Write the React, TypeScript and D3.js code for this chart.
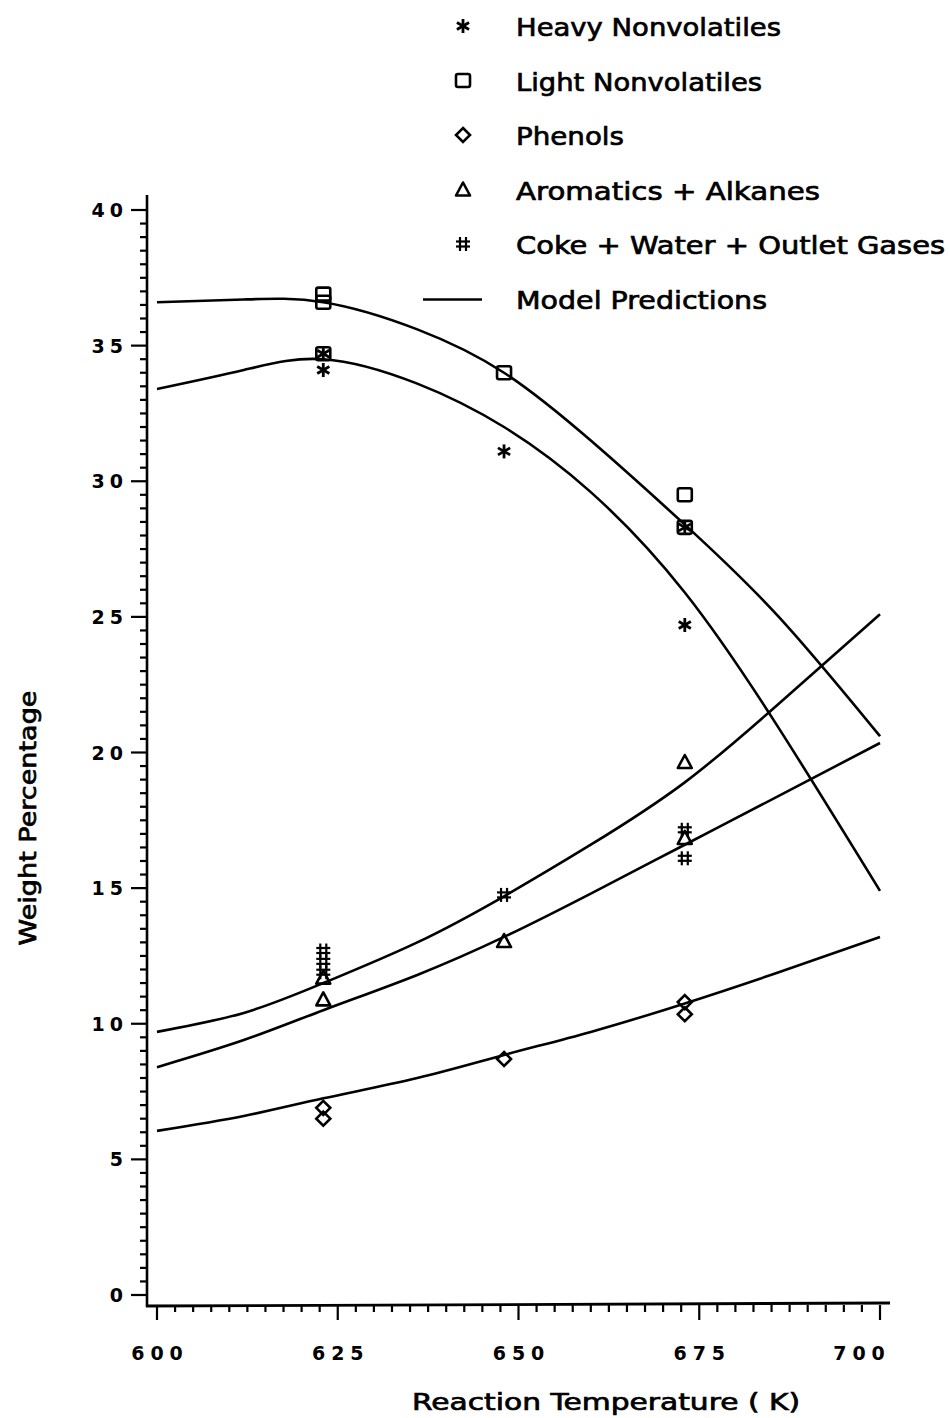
import React from "react";
import * as d3 from "d3";

// ---- data ----
const modelTemps = [600, 612, 623, 636, 648, 660, 673, 686, 700];
const lightModel = [36.6, 36.7, 36.6, 35.6, 34.0, 31.5, 28.4, 25.0, 20.6];
const heavyModel = [33.4, 34.1, 34.5, 33.6, 32.0, 29.6, 25.9, 20.9, 14.9];
const cokeModel = [9.7, 10.4, 11.5, 13.0, 14.7, 16.6, 18.9, 21.8, 25.1];
const aromModel = [8.4, 9.4, 10.5, 11.8, 13.2, 14.8, 16.6, 18.4, 20.35];
const phenolModel = [6.05, 6.6, 7.25, 8.0, 8.85, 9.7, 10.75, 11.9, 13.2];

const heavyPts: [number, number][] = [[623, 34.7], [623, 34.1], [648, 31.1], [673, 28.3], [673, 24.7]];
const lightPts: [number, number][] = [[623, 36.9], [623, 36.6], [623, 34.7], [648, 34.0], [673, 29.5], [673, 28.3]];
const phenolPts: [number, number][] = [[623, 6.9], [623, 6.5], [648, 8.7], [673, 10.8], [673, 10.35]];
const aromPts: [number, number][] = [[623, 11.7], [623, 10.9], [648, 13.05], [673, 19.65], [673, 16.85]];
const cokePts: [number, number][] = [[623, 12.7], [623, 12.3], [623, 11.9], [648, 14.75], [673, 17.15], [673, 16.1]];

const xTicks = [600, 625, 650, 675, 700];
const yTicks = [0, 5, 10, 15, 20, 25, 30, 35, 40];

const legendLabels = [
  "Heavy Nonvolatiles",
  "Light Nonvolatiles",
  "Phenols",
  "Aromatics + Alkanes",
  "Coke + Water + Outlet Gases",
  "Model Predictions",
];
const legendLengths = [265, 246, 108, 304, 429, 251];
const legendKinds = ["star", "square", "diamond", "triangle", "hash", "line"];

const FONT = "'DejaVu Sans', 'Open Sans', sans-serif";
const SW = 2.6;

function Marker({ kind, cx, cy }: { kind: string; cx: number; cy: number }) {
  const common = { stroke: "#000", strokeWidth: SW, fill: "none" } as any;
  if (kind === "square") {
    return <rect x={cx - 7} y={cy - 6.5} width={14} height={13} rx={2} {...common} />;
  }
  if (kind === "diamond") {
    const r = 7;
    return <path d={`M${cx},${cy - r}L${cx + r},${cy}L${cx},${cy + r}L${cx - r},${cy}Z`} {...common} />;
  }
  if (kind === "triangle") {
    return <path d={`M${cx},${cy - 7}L${cx + 7},${cy + 6}L${cx - 7},${cy + 6}Z`} {...common} strokeLinejoin="round" />;
  }
  if (kind === "hash") {
    return (
      <g {...common} strokeWidth={2.2}>
        <line x1={cx - 3} y1={cy - 7} x2={cx - 3} y2={cy + 7} />
        <line x1={cx + 3} y1={cy - 7} x2={cx + 3} y2={cy + 7} />
        <line x1={cx - 7} y1={cy - 2.5} x2={cx + 7} y2={cy - 2.5} />
        <line x1={cx - 7} y1={cy + 2.5} x2={cx + 7} y2={cy + 2.5} />
      </g>
    );
  }
  if (kind === "star") {
    const r = 7;
    const angs = [90, 30, 150];
    return (
      <g {...common} strokeWidth={2.8}>
        {angs.map((a) => {
          const rad = (a * Math.PI) / 180;
          return (
            <line
              key={a}
              x1={cx - r * Math.cos(rad)}
              y1={cy - r * Math.sin(rad)}
              x2={cx + r * Math.cos(rad)}
              y2={cy + r * Math.sin(rad)}
            />
          );
        })}
      </g>
    );
  }
  return null;
}

export default function App() {
  const W = 950;
  const H = 1418;
  const x = d3.scaleLinear().domain([600, 700]).range([157, 880]);
  const y = d3.scaleLinear().domain([0, 40]).range([1295, 210]);
  const axisX = 147;
  const axisY = 1305;

  const line = d3
    .line<number>()
    .x((_, i) => x(modelTemps[i]))
    .y((d) => y(d))
    .curve(d3.curveNatural);

  const models = [lightModel, heavyModel, cokeModel, aromModel, phenolModel];

  const yMinor = d3.range(0, 40.001, 0.5);
  const xMinor = d3.range(600, 700.001, 2.5);

  const series: [string, [number, number][]][] = [
    ["square", lightPts],
    ["star", heavyPts],
    ["diamond", phenolPts],
    ["triangle", aromPts],
    ["hash", cokePts],
  ];

  const textStroke = { stroke: "#000", strokeWidth: 0.7 } as any;

  return (
    <svg
      width={W}
      height={H}
      viewBox={`0 0 ${W} ${H}`}
      style={{ position: "absolute", left: 0, top: 0, background: "#fff" }}
    >
      <rect x={0} y={0} width={W} height={H} fill="#fff" />
      {/* axes */}
      <line x1={axisX} y1={195} x2={axisX} y2={axisY + 2} stroke="#000" strokeWidth={2.6} />
      <line x1={axisX - 1} y1={axisY + 1} x2={890} y2={axisY - 2} stroke="#000" strokeWidth={2.8} />
      {yMinor.map((v) => {
        const major = Math.abs(v % 5) < 1e-6;
        return (
          <line
            key={"ym" + v}
            x1={major ? axisX - 16 : axisX - 7}
            x2={axisX}
            y1={y(v)}
            y2={y(v)}
            stroke="#000"
            strokeWidth={2.2}
          />
        );
      })}
      {xMinor.map((v) => {
        const major = Math.abs(v % 25) < 1e-6;
        return (
          <line
            key={"xm" + v}
            x1={x(v)}
            x2={x(v)}
            y1={axisY}
            y2={axisY + (major ? 15 : 7)}
            stroke="#000"
            strokeWidth={2.2}
          />
        );
      })}
      {yTicks.map((v) => (
        <text
          key={"yl" + v}
          x={axisX - 19}
          y={y(v) + 7}
          textAnchor="end"
          fontFamily={FONT}
          fontWeight="bold"
          fontSize={19}
          letterSpacing={5}
        >
          {String(v)}
        </text>
      ))}
      {xTicks.map((v, i) => (
        <text
          key={"xl" + v}
          x={x(v) + (i === xTicks.length - 1 ? -18 : 3)}
          y={1360}
          textAnchor="middle"
          fontFamily={FONT}
          fontWeight="bold"
          fontSize={19}
          letterSpacing={6}
        >
          {String(v)}
        </text>
      ))}
      {/* axis titles */}
      <text
        x={606}
        y={1410}
        textAnchor="middle"
        fontFamily={FONT}
        fontSize={23}
        textLength={388}
        lengthAdjust="spacingAndGlyphs"
        {...textStroke}
      >
        Reaction Temperature ( K)
      </text>
      <text
        transform="translate(36,818) rotate(-90)"
        textAnchor="middle"
        fontFamily={FONT}
        fontSize={23}
        textLength={255}
        lengthAdjust="spacingAndGlyphs"
        {...textStroke}
      >
        Weight Percentage
      </text>
      {/* model curves */}
      {models.map((m, i) => (
        <path key={"m" + i} d={line(m) || ""} fill="none" stroke="#000" strokeWidth={2.6} />
      ))}
      {/* data points */}
      {series.map(([kind, pts]) =>
        pts.map((p, j) => <Marker key={kind + j} kind={kind} cx={x(p[0])} cy={y(p[1])} />)
      )}
      {/* legend */}
      {legendLabels.map((lab, i) => {
        const cy = 26 + i * 54.5;
        return (
          <g key={lab}>
            {legendKinds[i] === "line" ? (
              <line x1={423} x2={482} y1={cy + 1} y2={cy + 1} stroke="#000" strokeWidth={2.6} />
            ) : (
              <Marker kind={legendKinds[i]} cx={463} cy={cy} />
            )}
            <text
              x={516}
              y={cy + 10}
              fontFamily={FONT}
              fontSize={25}
              textLength={legendLengths[i]}
              lengthAdjust="spacingAndGlyphs"
              {...textStroke}
            >
              {lab}
            </text>
          </g>
        );
      })}
    </svg>
  );
}
